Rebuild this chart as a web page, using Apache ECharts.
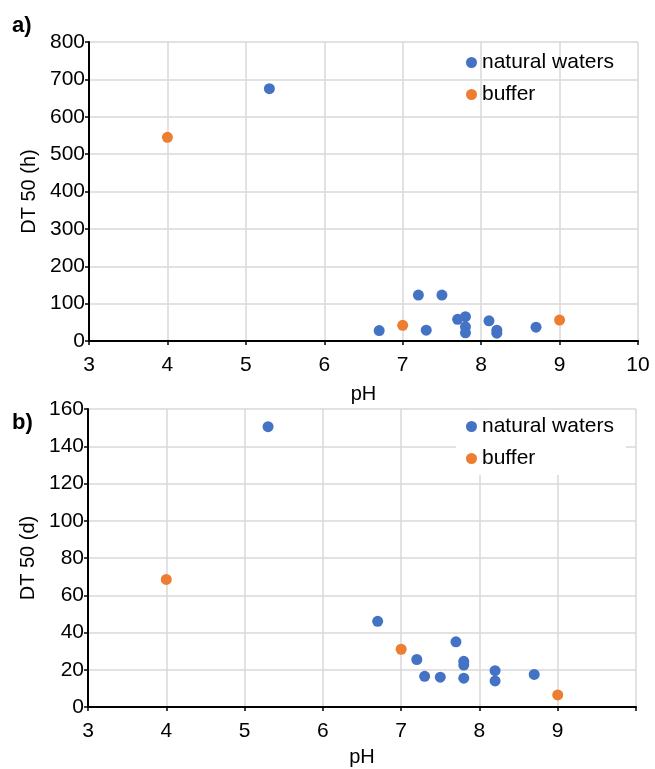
<!DOCTYPE html>
<html>
<head>
<meta charset="utf-8">
<script src="https://cdn.jsdelivr.net/npm/echarts@6/dist/echarts.min.js"></script>
<style>
  html, body { margin: 0; padding: 0; background: #fff; }
  #chart { width: 655px; height: 769px; }
</style>
</head>
<body>
<div id="chart"></div>
<script>
// panel a) DT50 in hours
const naturalPhA = [5.3, 6.7, 7.2, 7.3, 7.5, 7.7, 7.8, 7.8, 7.8, 8.1, 8.2, 8.2, 8.7];
const naturalDtA = [675, 28, 123, 29, 123, 58, 65, 38, 22, 54, 29, 21, 37];
const bufferPhA = [4, 7, 9];
const bufferDtA = [545, 42, 56];

// panel b) DT50 in days
const naturalPhB = [5.3, 6.7, 7.2, 7.3, 7.5, 7.7, 7.8, 7.8, 7.8, 8.2, 8.2, 8.7];
const naturalDtB = [150.5, 46, 25.5, 16.5, 16, 35, 24.5, 22.5, 15.5, 19.5, 14, 17.5];
const bufferPhB = [4, 7, 9];
const bufferDtB = [68.5, 31, 6.5];

const blue = '#4472C4';
const orange = '#ED7D31';
const font = 'Liberation Sans, Arial, sans-serif';

function pairs(xs, ys) {
  return xs.map((x, i) => [x, ys[i]]);
}

function xAxis(gridIndex, hideLast) {
  return {
    gridIndex: gridIndex,
    type: 'value',
    min: 3,
    max: 10,
    interval: 1,
    name: 'pH',
    nameLocation: 'middle',
    nameGap: gridIndex === 0 ? 43 : 40,
    nameTextStyle: { color: '#000', fontSize: 20, fontFamily: font },
    axisLine: { show: true, onZero: false, lineStyle: { color: '#000', width: 2 } },
    axisTick: { show: true, length: 4, lineStyle: { color: '#000', width: 1.5 } },
    axisLabel: {
      color: '#000', fontSize: 21, fontFamily: font, margin: 14,
      formatter: v => (hideLast && v === 10) ? '' : v
    },
    splitLine: { show: true, lineStyle: { color: '#d9d9d9', width: 1.5 } }
  };
}

function yAxis(gridIndex, max, interval, name) {
  return {
    gridIndex: gridIndex,
    type: 'value',
    min: 0,
    max: max,
    interval: interval,
    name: name,
    nameLocation: 'middle',
    nameGap: 50,
    nameTextStyle: { color: '#000', fontSize: 20, fontFamily: font },
    axisLine: { show: true, onZero: false, lineStyle: { color: '#000', width: 2 } },
    axisTick: { show: true, length: 4, lineStyle: { color: '#000', width: 1.5 } },
    axisLabel: { color: '#000', fontSize: 21, fontFamily: font, margin: 4 },
    splitLine: { show: true, lineStyle: { color: '#d9d9d9', width: 1.5 } }
  };
}

function scatter(name, idx, data, color) {
  return {
    name: name,
    type: 'scatter',
    xAxisIndex: idx,
    yAxisIndex: idx,
    symbolSize: 11,
    itemStyle: { color: color, opacity: 1 },
    data: data
  };
}

const chart = echarts.init(document.getElementById('chart'));
chart.setOption({
  animation: false,
  color: [blue, orange],
  grid: [
    { left: 89, top: 42, width: 549, height: 299, outerBoundsMode: 'none' },
    { left: 88, top: 409, width: 548, height: 298, outerBoundsMode: 'none' }
  ],
  xAxis: [xAxis(0, false), xAxis(1, true)],
  yAxis: [yAxis(0, 800, 100, 'DT 50 (h)'), yAxis(1, 160, 20, 'DT 50 (d)')],
  legend: [
    {
      orient: 'vertical', left: 456, top: 48,
      icon: 'circle', itemWidth: 11, itemHeight: 11, itemGap: 11,
      padding: [4, 12, 4, 10],
      textStyle: { color: '#000', fontSize: 21, fontFamily: font },
      data: ['natural waters', 'buffer']
    },
    {
      orient: 'vertical', left: 456, top: 410,
      icon: 'circle', itemWidth: 11, itemHeight: 11, itemGap: 11,
      padding: [6, 12, 6, 10],
      backgroundColor: '#fff',
      textStyle: { color: '#000', fontSize: 21, fontFamily: font },
      data: ['natural waters', 'buffer']
    }
  ],
  graphic: [
    { type: 'text', left: 12, top: 15, style: { text: 'a)', fontSize: 22, fontWeight: 'bold', fontFamily: font, fill: '#000' } },
    { type: 'text', left: 12, top: 412, style: { text: 'b)', fontSize: 22, fontWeight: 'bold', fontFamily: font, fill: '#000' } }
  ],
  series: [
    scatter('natural waters', 0, pairs(naturalPhA, naturalDtA), blue),
    scatter('buffer', 0, pairs(bufferPhA, bufferDtA), orange),
    scatter('natural waters', 1, pairs(naturalPhB, naturalDtB), blue),
    scatter('buffer', 1, pairs(bufferPhB, bufferDtB), orange)
  ]
});
</script>
</body>
</html>
